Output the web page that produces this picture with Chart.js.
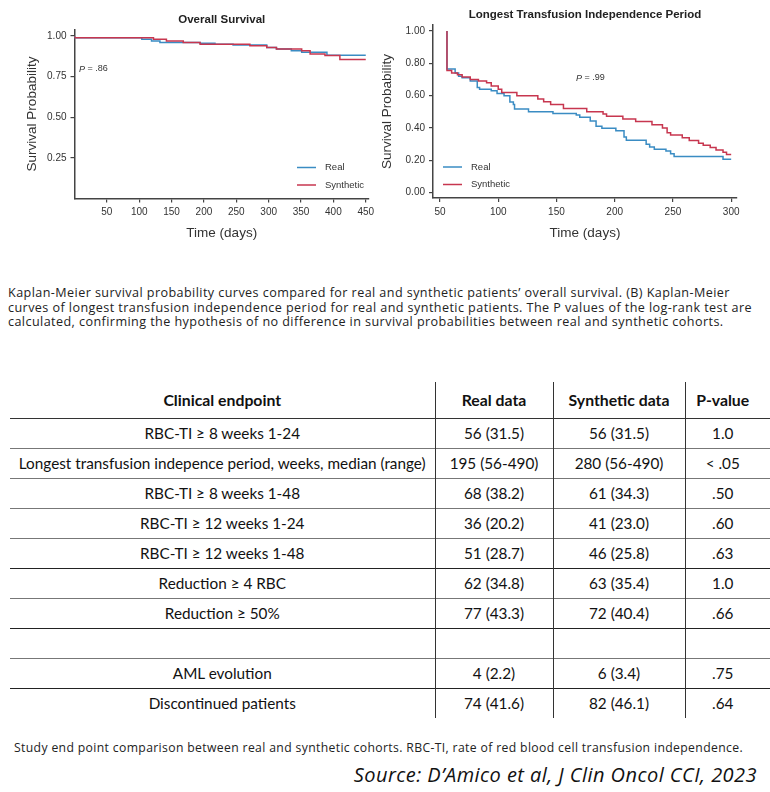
<!DOCTYPE html>
<html>
<head>
<meta charset="utf-8">
<script src="https://cdn.jsdelivr.net/npm/chart.js@4.4.0/dist/chart.umd.min.js"></script>
<style>
  html, body { margin: 0; padding: 0; background: #fff; }
  body { width: 770px; height: 792px; position: relative; overflow: hidden; }
  .panel { position: absolute; top: 0; height: 250px; }
  #panel-os { left: 0; width: 385px; }
  #panel-lti { left: 372px; width: 378px; }
  .caption {
    position: absolute; left: 8px; color: #222;
    font-family: "Open Sans", sans-serif; white-space: nowrap;
  }
  #caption-top { top: 286px; font-size: 12.6px; letter-spacing: 0.42px; line-height: 14.5px; }
  #caption-table { top: 741px; left: 14px; font-size: 12.2px; letter-spacing: 0.36px; line-height: 14px; }
  #source {
    position: absolute; right: 13px; top: 761px; color: #111;
    font-family: "Open Sans", sans-serif; font-style: italic; font-size: 20px; letter-spacing: 0.45px;
    white-space: nowrap;
  }
  table {
    position: absolute; left: 10px; top: 382px; width: 760px;
    border-collapse: collapse; table-layout: fixed;
    font-family: Lato, sans-serif; font-size: 15.3px; color: #111;
  }
  td { padding: 0; height: 30px; text-align: center; white-space: nowrap; box-sizing: border-box; }
  tr.hdr td { height: 36px; font-weight: bold; font-size: 15.8px; border-bottom: 1.5px solid #333; }
  tr + tr td { border-top: 1px solid #777; }
  tr.dark td { border-top: 1.5px solid #222; }
  td + td { border-left: 1px solid #333; }
  td:last-child { padding-right: 10px; }
</style>
</head>
<body>
<div class="panel" id="panel-os"><canvas id="chart-os"></canvas></div>
<div class="panel" id="panel-lti"><canvas id="chart-lti"></canvas></div>

<div class="caption" id="caption-top">
  <div>Kaplan-Meier survival probability curves compared for real and synthetic patients’ overall survival. (B) Kaplan-Meier</div>
  <div>curves of longest transfusion independence period for real and synthetic patients. The P values of the log-rank test are</div>
  <div>calculated, confirming the hypothesis of no difference in survival probabilities between real and synthetic cohorts.</div>
</div>

<table id="endpoints"></table>

<div class="caption" id="caption-table">Study end point comparison between real and synthetic cohorts. RBC-TI, rate of red blood cell transfusion independence.</div>
<div id="source">Source: D’Amico et al, J Clin Oncol CCI, 2023</div>

<script>
// Overall survival (Kaplan-Meier steps)
const osTimeReal = [0, 104, 119, 132, 194, 217, 245, 297, 312, 335, 351, 390, 420, 450];
const osSurvReal = [1.0, 0.99, 0.98, 0.97, 0.96, 0.955, 0.95, 0.945, 0.93, 0.92, 0.91, 0.90, 0.882, 0.882];
const osTimeSynth = [0, 122, 142, 168, 194, 271, 297, 312, 351, 364, 387, 410, 425, 450];
const osSurvSynth = [1.0, 0.99, 0.98, 0.97, 0.96, 0.95, 0.94, 0.93, 0.92, 0.91, 0.89, 0.88, 0.855, 0.855];

// Longest transfusion independence period
const ltiTimeReal = [56, 56, 63, 66, 69, 76, 82, 84, 94, 99, 105, 110, 113, 114, 126, 147, 167, 170, 179, 184, 189, 201, 208, 210, 227, 230, 234, 244, 248, 251, 293, 294, 300];
const ltiSurvReal = [1.0, 0.80, 0.765, 0.74, 0.72, 0.71, 0.69, 0.65, 0.64, 0.63, 0.614, 0.60, 0.56, 0.546, 0.518, 0.50, 0.49, 0.48, 0.466, 0.443, 0.41, 0.398, 0.383, 0.345, 0.324, 0.30, 0.283, 0.268, 0.258, 0.24, 0.223, 0.206, 0.206];
const ltiTimeSynth = [56, 56, 60, 65, 69, 76, 83, 90, 94, 100, 103, 116, 134, 139, 145, 156, 176, 190, 193, 207, 218, 232, 241, 245, 248, 258, 264, 272, 276, 282, 287, 293, 296, 297, 300];
const ltiSurvSynth = [1.0, 0.765, 0.755, 0.74, 0.73, 0.715, 0.70, 0.69, 0.68, 0.66, 0.64, 0.62, 0.60, 0.58, 0.563, 0.546, 0.52, 0.50, 0.487, 0.472, 0.456, 0.44, 0.42, 0.40, 0.37, 0.357, 0.34, 0.322, 0.305, 0.293, 0.28, 0.264, 0.25, 0.236, 0.236];

// tick labels
const osXTicks = [50, 100, 150, 200, 250, 300, 350, 400, 450];
const osYTicks = [0.25, 0.5, 0.75, 1.0];
const ltiXTicks = [50, 100, 150, 200, 250, 300];
const ltiYTicks = [0, 0.2, 0.4, 0.6, 0.8, 1.0];

const seriesLabels = ['Real', 'Synthetic'];

// table
const tableHeader = ['Clinical endpoint', 'Real data', 'Synthetic data', 'P-value'];
const endpoints = ['RBC-TI ≥ 8 weeks 1-24', 'Longest transfusion indepence period, weeks, median (range)', 'RBC-TI ≥ 8 weeks 1-48',
  'RBC-TI ≥ 12 weeks 1-24', 'RBC-TI ≥ 12 weeks 1-48', 'Reduction ≥ 4 RBC', 'Reduction ≥ 50%', '', 'AML evolution', 'Discontinued patients'];
const realData = ['56 (31.5)', '195 (56-490)', '68 (38.2)', '36 (20.2)', '51 (28.7)', '62 (34.8)', '77 (43.3)', '', '4 (2.2)', '74 (41.6)'];
const synthData = ['56 (31.5)', '280 (56-490)', '61 (34.3)', '41 (23.0)', '46 (25.8)', '63 (35.4)', '72 (40.4)', '', '6 (3.4)', '82 (46.1)'];
const pValues = ['1.0', '< .05', '.50', '.60', '.63', '1.0', '.66', '', '.75', '.64'];

const BLUE = '#3a8cc3';
const RED = '#c7364f';
const AXIS = '#444';

const toPoints = (t, s) => t.map((x, i) => ({ x: x, y: s[i] }));

// title, P value and legend drawn inside the panel
const panelText = {
  id: 'panelText',
  afterDraw(chart, args, opts) {
    const { ctx, chartArea: a } = chart;
    ctx.save();
    ctx.textBaseline = 'middle';
    ctx.fillStyle = '#222';
    ctx.textAlign = 'center';
    ctx.font = 'bold 11.5px "Liberation Sans", Arial, sans-serif';
    ctx.fillText(opts.title, (a.left + a.right) / 2, opts.titleY);

    ctx.textAlign = 'left';
    ctx.fillStyle = '#333';
    ctx.font = 'italic 9px "Liberation Sans", Arial, sans-serif';
    ctx.fillText('P', opts.pX, opts.pY);
    const pw = ctx.measureText('P').width;
    ctx.font = '9px "Liberation Sans", Arial, sans-serif';
    ctx.fillText(' = ' + opts.pText, opts.pX + pw, opts.pY);

    ctx.font = '9.5px "Liberation Sans", Arial, sans-serif';
    chart.data.datasets.forEach((ds, i) => {
      const y = opts.legendY + i * 17.5;
      ctx.strokeStyle = ds.borderColor;
      ctx.lineWidth = 1.5;
      ctx.beginPath();
      ctx.moveTo(opts.legendX, y);
      ctx.lineTo(opts.legendX + 19, y);
      ctx.stroke();
      ctx.fillText(ds.label, opts.legendX + 28, y);
    });
    ctx.restore();
  }
};

const makeScale = (cfg) => ({
  type: 'linear',
  min: cfg.min,
  max: cfg.max,
  afterBuildTicks: (s) => { s.ticks = cfg.ticks.map(v => ({ value: v })); },
  afterFit: (s) => { if (cfg.width) s.width = cfg.width; if (cfg.height) s.height = cfg.height; },
  border: { display: true, color: AXIS, width: 1.5 },
  grid: { drawOnChartArea: false, drawTicks: true, tickLength: 4, color: AXIS, lineWidth: 1.2 },
  ticks: {
    padding: 4,
    color: '#333',
    maxRotation: 0,
    autoSkip: false,
    font: { family: '"Liberation Sans", Arial, sans-serif', size: 10 },
    callback: cfg.fmt
  },
  title: {
    display: true,
    text: cfg.title,
    color: '#333',
    font: { family: '"Liberation Sans Narrow", "Liberation Sans", Arial, sans-serif', size: 13.5 },
    padding: cfg.titlePad
  }
});

const makeChart = (id, cfg) => new Chart(document.getElementById(id), {
  type: 'line',
  data: {
    datasets: [
      { label: seriesLabels[0], data: cfg.real, borderColor: BLUE, order: 2 },
      { label: seriesLabels[1], data: cfg.synth, borderColor: RED, order: 1 }
    ]
  },
  options: {
    responsive: true,
    maintainAspectRatio: false,
    animation: false,
    layout: { padding: cfg.padding },
    elements: {
      line: { borderWidth: 1.5, stepped: 'after', fill: false },
      point: { radius: 0 }
    },
    plugins: {
      legend: { display: false },
      tooltip: { enabled: false },
      panelText: cfg.text
    },
    scales: {
      x: makeScale(cfg.x),
      y: makeScale(cfg.y)
    }
  },
  plugins: [panelText]
});

document.addEventListener('DOMContentLoaded', () => {
  makeChart('chart-os', {
    real: toPoints(osTimeReal, osSurvReal),
    synth: toPoints(osTimeSynth, osSurvSynth),
    padding: { left: 0, right: 16, top: 29.5, bottom: 0 },
    x: { min: 0, max: 455, ticks: osXTicks, height: 51.5, title: 'Time (days)', titlePad: { top: 0, bottom: 8.9 }, fmt: (v) => v },
    y: { min: 0, max: 1.04, ticks: osYTicks, width: 74.5, title: 'Survival Probability', titlePad: { top: 23.9, bottom: 0 }, fmt: (v) => v.toFixed(2) },
    text: { title: 'Overall Survival', titleY: 20, pText: '.86', pX: 79, pY: 69, legendX: 297, legendY: 167.5 }
  });

  makeChart('chart-lti', {
    real: toPoints(ltiTimeReal, ltiSurvReal),
    synth: toPoints(ltiTimeSynth, ltiSurvSynth),
    padding: { left: 0, right: 13, top: 25, bottom: 0 },
    x: { min: 44, max: 305, ticks: ltiXTicks, height: 52, title: 'Time (days)', titlePad: { top: 0, bottom: 8.9 }, fmt: (v) => v },
    y: { min: -0.033, max: 1.037, ticks: ltiYTicks, width: 61, title: 'Survival Probability', titlePad: { top: 6.9, bottom: 0 }, fmt: (v) => v.toFixed(2) },
    text: { title: 'Longest Transfusion Independence Period', titleY: 15, pText: '.99', pX: 204, pY: 78, legendX: 71, legendY: 167 }
  });

  // comparison table
  const table = document.getElementById('endpoints');
  const addRow = (cells, cls) => {
    const tr = document.createElement('tr');
    if (cls) tr.className = cls;
    cells.forEach(c => {
      const td = document.createElement('td');
      td.textContent = c;
      tr.appendChild(td);
    });
    table.appendChild(tr);
  };
  const colgroup = document.createElement('colgroup');
  [425, 118, 132, 85].forEach(w => {
    const col = document.createElement('col');
    col.style.width = w + 'px';
    colgroup.appendChild(col);
  });
  table.appendChild(colgroup);
  addRow(tableHeader, 'hdr');
  endpoints.forEach((e, i) => {
    // darker rules before rows 6, 8 and 10
    const dark = (i === 5 || i === 7 || i === 9) ? 'dark' : '';
    addRow([e, realData[i], synthData[i], pValues[i]], dark);
  });
});
</script>
</body>
</html>
